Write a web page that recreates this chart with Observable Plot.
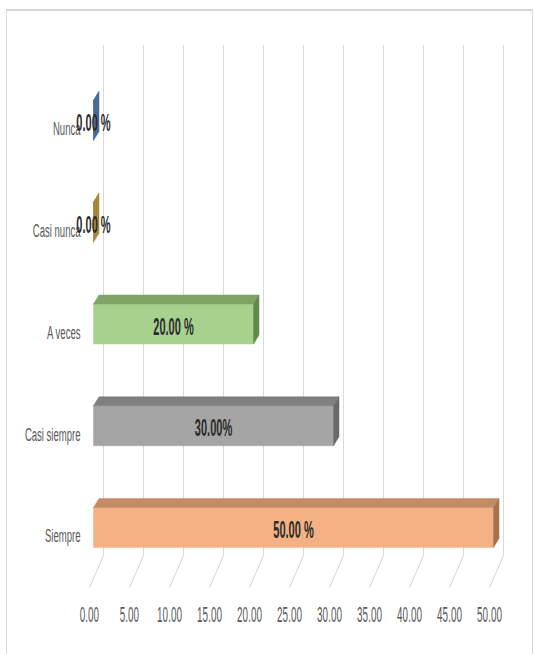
<!DOCTYPE html>
<html>
<head>
<meta charset="utf-8">
<script src="https://cdn.jsdelivr.net/npm/d3@7"></script>
<script src="https://cdn.jsdelivr.net/npm/@observablehq/plot@0.6"></script>
<style>
  html, body { margin: 0; padding: 0; background: #ffffff; }
  #wrap { position: relative; width: 534px; height: 654px; overflow: hidden; }
  #frame { position: absolute; left: 6px; top: 9px; width: 525px; height: 660px;
           border: 1px solid #dcdcdc; border-top: 2px solid #d6d6d6; pointer-events: none; }
</style>
</head>
<body>
<div id="wrap"><div id="frame"></div><div id="chart"></div></div>
<script>
// ---- data ----
const categories = ["Nunca", "Casi nunca", "A veces", "Casi siempre", "Siempre"];
const values = [0, 0, 20, 30, 50];
const valueLabels = ["0.00 %", "0.00 %", "20.00 %", "30.00%", "50.00 %"];
const frontColors = ["#5b7fb4", "#c09c3e", "#a9d18e", "#a5a5a5", "#f4b183"];
const topColors   = ["#4a6a9a", "#a8873a", "#7fa466", "#7f7f7f", "#c48b65"];
const sideColors  = ["#4a6a9a", "#a8873a", "#5f8a4c", "#6a6a6a", "#a8714f"];
const xTicks = [0, 5, 10, 15, 20, 25, 30, 35, 40, 45, 50];

// ---- layout (pixels) ----
const X0 = 93, X1 = 493;        // front plane: 0 and 50
const Y0 = 120, Y1 = 527;       // centres of first and last category
const xUnit = (X1 - X0) / 50;
const yUnit = (Y1 - Y0) / (categories.length - 1);
const halfH = 20 / yUnit;       // half height of the bar front
const depthX = 5.5 / xUnit, depthY = -9 / yUnit;
const yPx = px => (px - Y0) / yUnit;

// 3D faces built from the data
const faces = [];
categories.forEach((c, i) => {
  const v = values[i];
  const t = i - halfH, b = i + halfH;
  const push = (id, pts, color) => pts.forEach(([x, y]) => faces.push({id: c + id, x, y, color}));
  push("front", [[0, t], [v, t], [v, b], [0, b], [0, t]], frontColors[i]);
  push("top", [[0, t], [v, t], [v + depthX, t + depthY], [depthX, t + depthY], [0, t]], topColors[i]);
  push("side", [[v, t], [v + depthX, t + depthY], [v + depthX, b + depthY], [v, b], [v, t]], sideColors[i]);
});

const font = "'Liberation Sans', Arial, sans-serif";

const chart = Plot.plot({
  width: 534,
  height: 654,
  marginTop: 0,
  marginBottom: 33,
  marginLeft: 0,
  marginRight: 0,
  style: {background: "transparent", fontFamily: font},
  x: {domain: [0, 50], range: [X0, X1], axis: null},
  y: {domain: [0, categories.length - 1], range: [Y0, Y1], axis: null},
  color: {type: "identity"},
  marks: [
    // back-wall gridlines
    Plot.ruleX(xTicks, {x: d => d, dx: 10, insetTop: 45, insetBottom: 66, stroke: "#dadada", strokeWidth: 1}),
    // floor diagonals
    Plot.link(xTicks, {x1: d => d + 10 / xUnit, x2: d => d - 4 / xUnit, y1: yPx(555), y2: yPx(587), stroke: "#d4d4d4", strokeWidth: 1}),
    // bars
    Plot.line(faces, {x: "x", y: "y", z: "id", fill: "color", stroke: "color", strokeWidth: 0.5, curve: "linear"}),
    // category labels
    Plot.text(categories, {x: () => 0, y: (d, i) => i, text: d => d, textAnchor: "end", dx: -13, dy: 9,
      fontSize: 18, fill: "#595959", fontFamily: font}),
    // value labels
    Plot.text(values, {x: d => d / 2, y: (d, i) => i, text: (d, i) => valueLabels[i], dy: 3,
      fontSize: 24, fontWeight: "bold", fill: "#2b2b2b", fontFamily: font}),
    // x tick labels
    Plot.text(xTicks, {x: d => d, frameAnchor: "bottom", dx: -4, text: d => d.toFixed(2),
      fontSize: 22, fill: "#595959", fontFamily: font})
  ]
});

// condense the text horizontally (narrow typeface look)
const squeeze = [0.53, 0.46, 0.45];
chart.querySelectorAll('g[aria-label="text"]').forEach((g, k) => {
  const s = squeeze[k] ?? 0.5;
  g.querySelectorAll("text").forEach(t => {
    const tr = t.getAttribute("transform") || "";
    const x = +t.getAttribute("x") || 0, y = +t.getAttribute("y") || 0;
    t.setAttribute("transform", `${tr} translate(${x},${y}) scale(${s},1) translate(${-x},${-y})`);
  });
});
document.getElementById("chart").appendChild(chart);
</script>
</body>
</html>
